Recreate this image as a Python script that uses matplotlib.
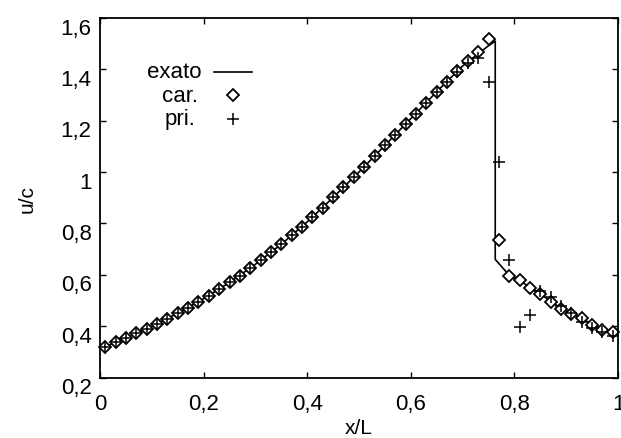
import matplotlib
matplotlib.use("Agg")
import matplotlib.pyplot as plt
from matplotlib.transforms import ScaledTranslation

plt.rcParams['font.family'] = ['Liberation Sans', 'DejaVu Sans']

# exact solution ("exato")
x_exact = [0.0, 0.05, 0.10, 0.15, 0.20, 0.25, 0.30, 0.35, 0.40, 0.45, 0.50,
           0.55, 0.60, 0.65, 0.70, 0.75, 0.763, 0.763, 0.79, 0.81, 0.83, 0.85,
           0.87, 0.89, 0.91, 0.93, 0.95, 0.97, 1.0]
u_exact = [0.312, 0.354, 0.399, 0.450, 0.507, 0.570, 0.641, 0.719, 0.806, 0.901, 1.000,
           1.104, 1.208, 1.313, 1.413, 1.492, 1.510, 0.660, 0.598, 0.578, 0.551, 0.525,
           0.497, 0.470, 0.449, 0.430, 0.408, 0.389, 0.368]

# characteristics scheme ("car.")
x_car = [0.01, 0.03, 0.05, 0.07, 0.09, 0.11, 0.13, 0.15, 0.17, 0.19,
         0.21, 0.23, 0.25, 0.27, 0.29, 0.31, 0.33, 0.35, 0.37, 0.39,
         0.41, 0.43, 0.45, 0.47, 0.49, 0.51, 0.53, 0.55, 0.57, 0.59,
         0.61, 0.63, 0.65, 0.67, 0.69, 0.71, 0.73, 0.75, 0.77, 0.79,
         0.81, 0.83, 0.85, 0.87, 0.89, 0.91, 0.93, 0.95, 0.97, 0.99]
u_car = [0.320, 0.337, 0.354, 0.372, 0.390, 0.409, 0.429, 0.450, 0.472, 0.495,
         0.519, 0.544, 0.570, 0.597, 0.626, 0.656, 0.687, 0.719, 0.753, 0.788,
         0.824, 0.862, 0.901, 0.940, 0.980, 1.021, 1.062, 1.104, 1.145, 1.186,
         1.228, 1.270, 1.312, 1.352, 1.392, 1.431, 1.468, 1.520, 0.737, 0.595,
         0.580, 0.549, 0.524, 0.494, 0.467, 0.448, 0.431, 0.406, 0.385, 0.377]

# primitive-variable scheme ("pri.")
x_pri = x_car
u_pri = [0.320, 0.337, 0.354, 0.372, 0.390, 0.409, 0.429, 0.450, 0.472, 0.495,
         0.519, 0.544, 0.570, 0.597, 0.626, 0.656, 0.687, 0.719, 0.753, 0.788,
         0.824, 0.862, 0.901, 0.940, 0.980, 1.021, 1.062, 1.104, 1.145, 1.186,
         1.228, 1.270, 1.312, 1.352, 1.390, 1.425, 1.445, 1.352, 1.040, 0.658,
         0.395, 0.445, 0.536, 0.514, 0.478, 0.450, 0.418, 0.393, 0.378, 0.360]

x_ticks = [0.0, 0.2, 0.4, 0.6, 0.8, 1.0]
x_tick_labels = ['0', '0,2', '0,4', '0,6', '0,8', '1']
y_ticks = [0.2, 0.4, 0.6, 0.8, 1.0, 1.2, 1.4, 1.6]
y_tick_labels = ['0,2', '0,4', '0,6', '0,8', '1', '1,2', '1,4', '1,6']
legend_labels = ['exato', 'car.', 'pri.']

W, H = 621, 439
fig = plt.figure(figsize=(W / 100, H / 100), dpi=100)
left, right, top, bottom = 100, 618, 19, 378.5
ax = fig.add_axes([left / W, 1 - bottom / H, (right - left) / W, (bottom - top) / H])

l_ex, = ax.plot(x_exact, u_exact, color='black', lw=1.2)
l_car, = ax.plot(x_car, u_car, ls='none', marker='D', ms=6.3, mfc='white',
                 mec='black', mew=1.3, clip_on=False)
l_pri, = ax.plot(x_pri, u_pri, ls='none', marker='+', ms=9, mec='black',
                 mew=1.1, clip_on=False)

ax.set_xlim(0, 1)
ax.set_ylim(0.2, 1.6)
ax.set_xticks(x_ticks)
ax.set_xticklabels(x_tick_labels)
ax.set_yticks(y_ticks)
ax.set_yticklabels(y_tick_labels)
ax.tick_params(direction='in', length=4, width=1, labelsize=16,
               top=True, right=True)
ax.tick_params(axis='x', pad=11)
ax.tick_params(axis='y', pad=6)
for sp in ax.spines.values():
    sp.set_linewidth(1.3)

ax.set_xlabel('x/L', fontsize=15, labelpad=3)
ax.set_ylabel('u/c', fontsize=15, labelpad=17)

off = ScaledTranslation(0, -7.5 / 100, fig.dpi_scale_trans)
for lab in ax.get_yticklabels():
    lab.set_transform(lab.get_transform() + off)

leg = ax.legend([l_ex, l_car, l_pri], ['', '', ''], loc='upper left',
                bbox_to_anchor=(0.22, 0.874), frameon=False, borderpad=0,
                handlelength=1.7, handletextpad=0, labelspacing=0.12,
                fontsize=16, borderaxespad=0)

fig.canvas.draw()
r = fig.canvas.get_renderer()
for h, txt in zip(leg.legend_handles, legend_labels):
    bb = h.get_window_extent(r)
    yc = (bb.y0 + bb.y1) / 2
    fig.text((bb.x0 - 12) / W, yc / H, txt, ha='right', va='center',
             fontsize=16)

fig.savefig('out.png', dpi=100)
